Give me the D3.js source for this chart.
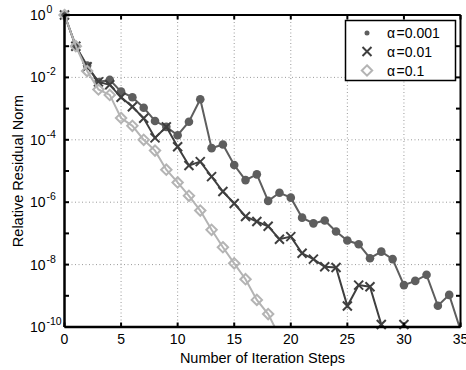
<!DOCTYPE html>
<html><head><meta charset="utf-8">
<script src="https://cdn.jsdelivr.net/npm/d3@7"></script>
<style>body{margin:0;background:#fff}svg{display:block}text{font-family:"Liberation Sans",Arial,sans-serif}</style>
</head><body>
<svg id="c" width="466" height="370"></svg>
<script>
const steps = d3.range(0, 36);
const alpha001 = [1, 1.0e-1, 2.4e-2, 7.1e-3, 8.3e-3, 3.5e-3, 2.3e-3, 1.07e-3, 4.0e-4, 2.6e-4, 1.4e-4, 3.8e-4, 2.0e-3, 5.4e-5, 7.1e-5, 1.55e-5, 5.1e-6, 7.8e-6, 1.1e-6, 2.0e-6, 1.4e-6, 3.2e-7, 2.1e-7, 2.6e-7, 1.15e-7, 5.9e-8, 4.5e-8, 1.6e-8, 2.6e-8, 1.5e-8, 2.2e-9, 3.0e-9, 4.7e-9, 4.8e-10, 1.07e-9, 8e-11];
const alpha01 = [1, 1.0e-1, 2.2e-2, 7.2e-3, 5.8e-3, 2.3e-3, 1.15e-3, 4.9e-4, 1.15e-4, 2.6e-4, 6.0e-5, 1.5e-5, 2.0e-5, 6.6e-6, 2.2e-6, 9.1e-7, 3.5e-7, 2.4e-7, 1.7e-7, 6.5e-8, 7.9e-8, 2.3e-8, 1.5e-8, 8.5e-9, 8.1e-9, 4.7e-10, 2.2e-9, 1.95e-9, 1.2e-10, 1e-12, 1.2e-10];
const alpha1 = [1, 1.0e-1, 1.6e-2, 4.1e-3, 2.75e-3, 5.0e-4, 2.8e-4, 1.0e-4, 4.5e-5, 1.1e-5, 4.3e-6, 1.6e-6, 5.4e-7, 1.3e-7, 3.6e-8, 1.1e-8, 3.4e-9, 7.4e-10, 2.6e-10, 5e-11];
const legendLabels = ["0.001", "0.01", "0.1"];
const xTicks = [0, 5, 10, 15, 20, 25, 30, 35];
const yExponents = [0, -2, -4, -6, -8, -10];
const yMinorExponents = [-1, -3, -5, -7, -9];

const L = 64.5, R = 460.5, T = 15, B = 327;
const svg = d3.select("#c");
const x = d3.scaleLinear().domain([0, 35]).range([L, R]);
const y = d3.scaleLog().domain([1e-10, 1]).range([B, T]);

// grid
const grid = svg.append("g").attr("stroke", "#9a9a9a").attr("stroke-width", 1).attr("stroke-dasharray", "1,2.5");
xTicks.filter(t => t > 0 && t < 35).forEach(t => grid.append("line").attr("x1", x(t)).attr("x2", x(t)).attr("y1", T).attr("y2", B));
yExponents.filter(e => e < 0 && e > -10).forEach(e => grid.append("line").attr("x1", L).attr("x2", R).attr("y1", y(10 ** e)).attr("y2", y(10 ** e)));

svg.append("defs").append("clipPath").attr("id", "clip").append("rect").attr("x", L).attr("y", T).attr("width", R - L).attr("height", B - T);

const series = [
  {vals: alpha001, color: "#5e5e5e", marker: "dot"},
  {vals: alpha01, color: "#3f3f3f", marker: "x"},
  {vals: alpha1, color: "#b4b4b4", marker: "diamond"}
];
const line = d3.line().x(d => x(d[0])).y(d => y(d[1]));
function drawMarker(g, type, cx, cy, color, legend) {
  if (type === "dot") {
    g.append("circle").attr("cx", cx).attr("cy", cy).attr("r", legend ? 2.5 : 4.3).attr("fill", color);
  } else if (type === "x") {
    const s = 4.5;
    g.append("path").attr("d", `M${cx - s},${cy - s}L${cx + s},${cy + s}M${cx - s},${cy + s}L${cx + s},${cy - s}`)
      .attr("stroke", color).attr("stroke-width", 2).attr("fill", "none");
  } else {
    const s = 5.2;
    g.append("path").attr("d", `M${cx},${cy - s}L${cx + s},${cy}L${cx},${cy + s}L${cx - s},${cy}Z`)
      .attr("stroke", color).attr("stroke-width", 2).attr("fill", "none");
  }
}
series.forEach(s => {
  const pts = s.vals.map((v, i) => [steps[i], v]);
  svg.append("path").attr("clip-path", "url(#clip)").attr("d", line(pts))
    .attr("fill", "none").attr("stroke", s.color).attr("stroke-width", 2);
  const g = svg.append("g");
  pts.filter(p => p[1] >= 1e-10 * 0.999).forEach(p => drawMarker(g, s.marker, x(p[0]), y(p[1]), s.color, false));
});

// axes box
const ax = svg.append("g").attr("stroke", "#000");
ax.append("line").attr("x1", L).attr("x2", R).attr("y1", B).attr("y2", B).attr("stroke-width", 2.5);
ax.append("line").attr("x1", L).attr("x2", L).attr("y1", T).attr("y2", B).attr("stroke-width", 2.5);
ax.append("line").attr("x1", L).attr("x2", R).attr("y1", T).attr("y2", T).attr("stroke-width", 2);
ax.append("line").attr("x1", R).attr("x2", R).attr("y1", T).attr("y2", B).attr("stroke-width", 2);
const tl = 4.5;
xTicks.forEach(t => {
  ax.append("line").attr("x1", x(t)).attr("x2", x(t)).attr("y1", B).attr("y2", B - tl).attr("stroke-width", 2);
  ax.append("line").attr("x1", x(t)).attr("x2", x(t)).attr("y1", T).attr("y2", T + tl).attr("stroke-width", 2);
});
yExponents.concat(yMinorExponents).forEach(e => {
  const yy = y(10 ** e);
  ax.append("line").attr("x1", L).attr("x2", L + tl).attr("y1", yy).attr("y2", yy).attr("stroke-width", 2);
  ax.append("line").attr("x1", R).attr("x2", R - tl).attr("y1", yy).attr("y2", yy).attr("stroke-width", 2);
});

// tick labels
xTicks.forEach(t => svg.append("text").attr("x", x(t)).attr("y", 344).attr("text-anchor", "middle").attr("font-size", 14).text(t));
yExponents.forEach(e => {
  const yy = y(10 ** e);
  svg.append("text").attr("x", 45.5).attr("y", yy + 5).attr("text-anchor", "end").attr("font-size", 14).text("10");
  svg.append("text").attr("x", 46.5).attr("y", yy - 2).attr("font-size", 10.5).text(e === 0 ? "0" : "-" + (-e));
});

// axis labels
svg.append("text").attr("x", (L + R) / 2).attr("y", 363).attr("text-anchor", "middle").attr("font-size", 14.5).text("Number of Iteration Steps");
svg.append("text").attr("transform", `translate(22.5,${(T + B) / 2}) rotate(-90)`).attr("text-anchor", "middle").attr("font-size", 14.5).text("Relative Residual Norm");

// legend
const lg = svg.append("g");
lg.append("rect").attr("x", 345.5).attr("y", 20.5).attr("width", 110).attr("height", 60).attr("fill", "#fff").attr("stroke", "#000").attr("stroke-width", 1.5);
const ly = [33, 51.5, 70.5];
series.forEach((s, i) => {
  drawMarker(lg, s.marker, 367, ly[i], s.color, true);
  const t = lg.append("text").attr("x", 387).attr("y", ly[i] + 5).attr("font-size", 14);
  t.append("tspan").text("α");
  t.append("tspan").attr("dx", 1.5).text("=" + legendLabels[i]);
});
</script>
</body></html>
